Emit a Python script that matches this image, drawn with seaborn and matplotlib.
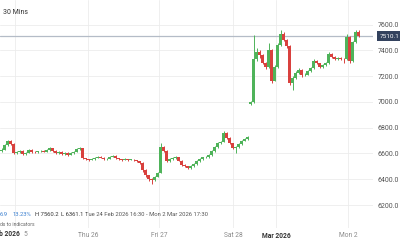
import numpy as np
import pandas as pd
import seaborn as sns
import matplotlib
matplotlib.use("Agg")
import matplotlib.pyplot as plt
import matplotlib.transforms as mtransforms

# ---------------- data ----------------
close = [6630, 6665, 6700, 6675, 6600, 6612, 6622, 6596, 6605, 6630,
         6612, 6608, 6616, 6622, 6614, 6626, 6642, 6620, 6600, 6612,
         6594, 6606, 6590, 6602, 6612, 6634, 6640, 6562, 6556, 6550,
         6558, 6566, 6576, 6568, 6556, 6560, 6576, 6582, 6562, 6556,
         6550, 6556, 6550, 6553, 6546, 6540, 6528, 6470, 6430, 6400,
         6392, 6420, 6452, 6650, 6622, 6540, 6560, 6566, 6572, 6545,
         6512, 6500, 6486, 6504, 6520, 6540, 6560, 6570, 6576, 6586,
         6620, 6650, 6680, 6692, 6762, 6722, 6680, 6642, 6650, 6672,
         6700, 6712, 6726, 7000, 7330, 7385, 7360, 7300, 7270, 7400,
         7165, 7270, 7440, 7525, 7480, 7430, 7150, 7185, 7225, 7250,
         7205, 7212, 7240, 7262, 7320, 7298, 7270, 7288, 7302, 7372,
         7350, 7332, 7342, 7336, 7330, 7505, 7318, 7465, 7545, 7510.1]
high = [6640, 6672, 6708, 6705, 6680, 6620, 6630, 6626, 6612, 6636,
        6634, 6618, 6622, 6628, 6626, 6632, 6650, 6646, 6624, 6618,
        6616, 6612, 6610, 6608, 6618, 6640, 6648, 6644, 6568, 6560,
        6564, 6572, 6582, 6580, 6572, 6566, 6582, 6590, 6586, 6566,
        6560, 6562, 6560, 6558, 6558, 6550, 6544, 6532, 6476, 6436,
        6410, 6428, 6460, 6680, 6660, 6628, 6568, 6574, 6578, 6576,
        6550, 6516, 6504, 6510, 6526, 6546, 6566, 6576, 6584, 6594,
        6628, 6658, 6690, 6700, 6772, 6768, 6726, 6684, 6658, 6680,
        6708, 6720, 6734, 7010, 7520, 7420, 7400, 7370, 7310, 7455,
        7410, 7285, 7460, 7560, 7540, 7490, 7440, 7200, 7240, 7262,
        7256, 7222, 7250, 7272, 7332, 7326, 7302, 7296, 7310, 7385,
        7378, 7356, 7350, 7348, 7342, 7530, 7510, 7475, 7555, 7560]
low = [6615, 6625, 6660, 6668, 6592, 6595, 6606, 6588, 6590, 6600,
       6606, 6602, 6604, 6612, 6608, 6610, 6620, 6614, 6594, 6596,
       6588, 6590, 6582, 6586, 6598, 6608, 6628, 6554, 6548, 6542,
       6546, 6552, 6562, 6562, 6550, 6552, 6556, 6572, 6556, 6550,
       6544, 6546, 6544, 6546, 6540, 6532, 6520, 6460, 6420, 6390,
       6361, 6385, 6414, 6448, 6610, 6530, 6534, 6552, 6560, 6538,
       6505, 6494, 6478, 6482, 6498, 6514, 6534, 6552, 6562, 6568,
       6580, 6614, 6644, 6672, 6688, 6714, 6672, 6636, 6600, 6644,
       6666, 6694, 6706, 6975, 6995, 7320, 7340, 7290, 7255, 7265,
       7145, 7160, 7262, 7430, 7470, 7415, 7130, 7090, 7175, 7215,
       7195, 7198, 7206, 7232, 7255, 7290, 7262, 7264, 7280, 7296,
       7340, 7322, 7326, 7328, 7300, 7325, 7300, 7312, 7460, 7500]
first_open = 6620
reopen_index = 83        # market re-open gap candle
reopen_price = 6985
last_price = 7510.1

y_ticks = [6200, 6400, 6600, 6800, 7000, 7200, 7400, 7600]
x_tick_pos = [4.5, 28.8, 52.5, 77.2, 91.5, 115.5]
x_tick_labels = ["", "Thu 26", "Fri 27", "Sat 28", "Mar 2026", "Mon 2"]
month_labels = {"Mar 2026"}

df = pd.DataFrame({"close": close, "high": high, "low": low})
df["open"] = df["close"].shift(1)
df.loc[0, "open"] = first_open
df.loc[reopen_index, "open"] = reopen_price
df["t"] = np.arange(len(df))
df["dir"] = np.where(df["close"] >= df["open"], "up", "down")

# ---------------- style ----------------
sns.set_style("white")
plt.rcParams["font.family"] = ["Roboto", "DejaVu Sans"]
green = "#4fb35a"
red = "#d9413e"
pal = {"up": green, "down": red}

fig = plt.figure(figsize=(4, 2.4), dpi=100)
ax = fig.add_axes([0, 12 / 240, 373 / 400, 228 / 240])

# wicks
ax.vlines(df["t"], df["low"], df["high"],
          colors=[pal[d] for d in df["dir"]], linewidth=0.7, zorder=3)
# bodies
body_h = (df["close"] - df["open"]).to_numpy()
body_h = np.where(np.abs(body_h) < 4, np.sign(body_h + 1e-9) * 4, body_h)
ax.bar(df["t"], body_h, bottom=df["open"], width=0.68,
       color=[pal[d] for d in df["dir"]], linewidth=0, zorder=4)

ax.set_xlim(-0.5, 123.83)
ax.set_ylim(6022, 7790)

# grid
ax.set_yticks(y_ticks)
ax.set_xticks(x_tick_pos)
ax.grid(True, color="#ececec", linewidth=0.6, zorder=0)
ax.set_axisbelow(True)
for s in ax.spines.values():
    s.set_visible(False)

ax.yaxis.tick_right()
ax.set_yticklabels([f"{v:.1f}" for v in y_ticks])
ax.tick_params(axis="y", length=0, pad=3.2, labelsize=5.0, labelcolor="#555555")
ax.set_xticklabels(x_tick_labels)
ax.tick_params(axis="x", length=0, pad=3, labelsize=4.8, labelcolor="#8a8a8a")
for lab in ax.get_xticklabels():
    if lab.get_text() in month_labels:
        lab.set_color("#333333")
        lab.set_fontweight("bold")

# "Feb 2026" month label partially cut off on the left, then day "25" tail
fig.text(-8 / 400, 1 - 234 / 240, "Feb 2026", fontsize=4.8, color="#333333",
         fontweight="bold", ha="left", va="center")
fig.text(23 / 400, 1 - 234 / 240, "5", fontsize=4.8, color="#8a8a8a",
         ha="left", va="center")

# last price line and label
ax.axhline(last_price, color="#b4bcc7", linewidth=0.9, zorder=2)
trans = mtransforms.blended_transform_factory(ax.transAxes, ax.transData)
ax.text(1.018, last_price, f"{last_price:.1f}", transform=trans, fontsize=4.6,
        color="white", ha="left", va="center", clip_on=False,
        bbox=dict(boxstyle="square,pad=0.4", fc="#33425e", ec="none"))

# header
fig.text(3 / 400, 1 - 13 / 240, "30 Mins", fontsize=5.0, color="#333333",
         ha="left", va="center")

# info line
iy = 1 - 214 / 240
fs = 4.2
fig.text(0 / 400, iy, "6.9", fontsize=fs, color="#3a7fcf", ha="left", va="center")
fig.text(13 / 400, iy, "13.23%", fontsize=fs, color="#3a7fcf", ha="left", va="center")
fig.text(35 / 400, iy, "H 7560.2", fontsize=fs, color="#333333", ha="left", va="center")
fig.text(61 / 400, iy, "L 6361.1", fontsize=fs, color="#333333", ha="left", va="center")
fig.text(85 / 400, iy, "Tue 24 Feb 2026 16:30 - Mon 2 Mar 2026 17:30",
         fontsize=fs, color="#555555", ha="left", va="center")
fig.text(0 / 400, 1 - 225 / 240, "ds to indicators", fontsize=3.6,
         color="#666666", ha="left", va="center")

fig.savefig("out.png", dpi=100)
